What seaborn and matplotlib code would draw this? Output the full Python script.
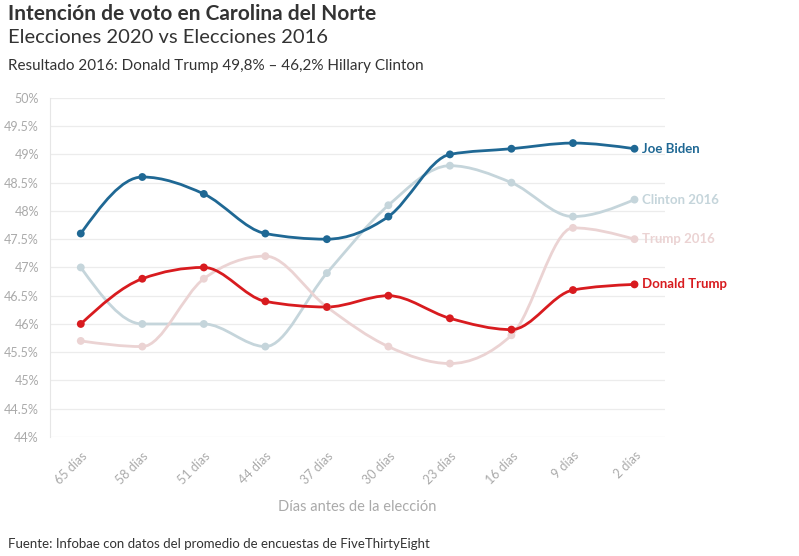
import numpy as np
import pandas as pd
import matplotlib
matplotlib.use("Agg")
import matplotlib.pyplot as plt
from matplotlib.path import Path
from matplotlib.patches import PathPatch
import seaborn as sns

# Datos
dias = ["65 días", "58 días", "51 días", "44 días", "37 días",
        "30 días", "23 días", "16 días", "9 días", "2 días"]
biden = [47.6, 48.6, 48.3, 47.6, 47.5, 47.9, 49.0, 49.1, 49.2, 49.1]
trump = [46.0, 46.8, 47.0, 46.4, 46.3, 46.5, 46.1, 45.9, 46.6, 46.7]
clinton_2016 = [47.0, 46.0, 46.0, 45.6, 46.9, 48.1, 48.8, 48.5, 47.9, 48.2]
trump_2016 = [45.7, 45.6, 46.8, 47.2, 46.3, 45.6, 45.3, 45.8, 47.7, 47.5]

series = ["Clinton 2016", "Trump 2016", "Joe Biden", "Donald Trump"]
valores = [clinton_2016, trump_2016, biden, trump]
colores = {"Joe Biden": "#1f6894", "Donald Trump": "#d81b1f",
           "Clinton 2016": "#c5d5db", "Trump 2016": "#ebd3d3"}

df = pd.concat([pd.DataFrame({"dia": dias, "x": range(len(dias)), "valor": v, "serie": s})
                for s, v in zip(series, valores)], ignore_index=True)

sns.set_style("white")
plt.rcParams["font.family"] = ["Lato", "DejaVu Sans"]


def curva_monotona(x, y):
    # curva tipo monotoneX (bezier cúbicas) entre los puntos
    x = np.asarray(x, float)
    y = np.asarray(y, float)
    h = np.diff(x)
    s = np.diff(y) / h
    t = np.zeros(len(x))
    for i in range(1, len(x) - 1):
        p = (s[i - 1] * h[i] + s[i] * h[i - 1]) / (h[i - 1] + h[i])
        t[i] = (np.sign(s[i - 1]) + np.sign(s[i])) * min(abs(s[i - 1]), abs(s[i]), 0.5 * abs(p))
    t[0] = (3 * s[0] - t[1]) / 2
    t[-1] = (3 * s[-1] - t[-2]) / 2
    verts = [(x[0], y[0])]
    codes = [Path.MOVETO]
    for i in range(len(x) - 1):
        dx = h[i] / 3
        verts += [(x[i] + dx, y[i] + dx * t[i]), (x[i + 1] - dx, y[i + 1] - dx * t[i + 1]),
                  (x[i + 1], y[i + 1])]
        codes += [Path.CURVE4] * 3
    return Path(verts, codes)


fig = plt.figure(figsize=(7.99, 5.56), dpi=100)
ax = fig.add_axes([0.0626, 0.214, 0.770, 0.610])

for s in series:
    d = df[df.serie == s]
    ax.add_patch(PathPatch(curva_monotona(d.x, d.valor), facecolor="none",
                           edgecolor=colores[s], lw=2.0, zorder=2))

sns.scatterplot(data=df, x="x", y="valor", hue="serie", palette=colores,
                s=32, edgecolor="none", legend=False, ax=ax, zorder=3)

for s in series:
    d = df[df.serie == s]
    ax.text(d.x.iloc[-1] + 0.12, d.valor.iloc[-1], s, color=colores[s],
            fontsize=9.5, fontweight="bold", va="center", ha="left")

ax.set_xlim(-0.5, len(dias) - 0.5)
ax.set_ylim(44, 50)
ax.set_yticks(np.arange(44, 50.01, 0.5))
ax.set_yticklabels([f"{v:g}%" for v in np.arange(44, 50.01, 0.5)])
ax.set_xticks(range(len(dias)))
ax.set_xticklabels(dias, rotation=45, ha="right", rotation_mode="anchor")
ax.tick_params(axis="x", colors="#aaaaaa", labelsize=9, length=5, width=0.8, pad=4)
ax.tick_params(axis="y", colors="#aaaaaa", labelsize=9, length=0, pad=8)
ax.grid(axis="y", color="#ececec", lw=0.9)
ax.set_axisbelow(True)
for lado in ["top", "right", "bottom"]:
    ax.spines[lado].set_visible(False)
ax.spines["left"].set_color("#e6e6e6")
ax.set_xlabel("Días antes de la elección", color="#aaaaaa", fontsize=10.5, labelpad=10)
ax.set_ylabel("")

fig.text(0.010, 0.992, "Intención de voto en Carolina del Norte", fontsize=15,
         fontweight="bold", color="#333333", va="top")
fig.text(0.010, 0.947, "Elecciones 2020 vs Elecciones 2016", fontsize=14.5,
         color="#333333", va="top")
fig.text(0.010, 0.893, "Resultado 2016: Donald Trump 49,8% – 46,2% Hillary Clinton",
         fontsize=11, color="#333333", va="top")
fig.text(0.010, 0.010, "Fuente: Infobae con datos del promedio de encuestas de FiveThirtyEight",
         fontsize=9.5, color="#333333", va="bottom")

fig.savefig("out.png", dpi=100)
